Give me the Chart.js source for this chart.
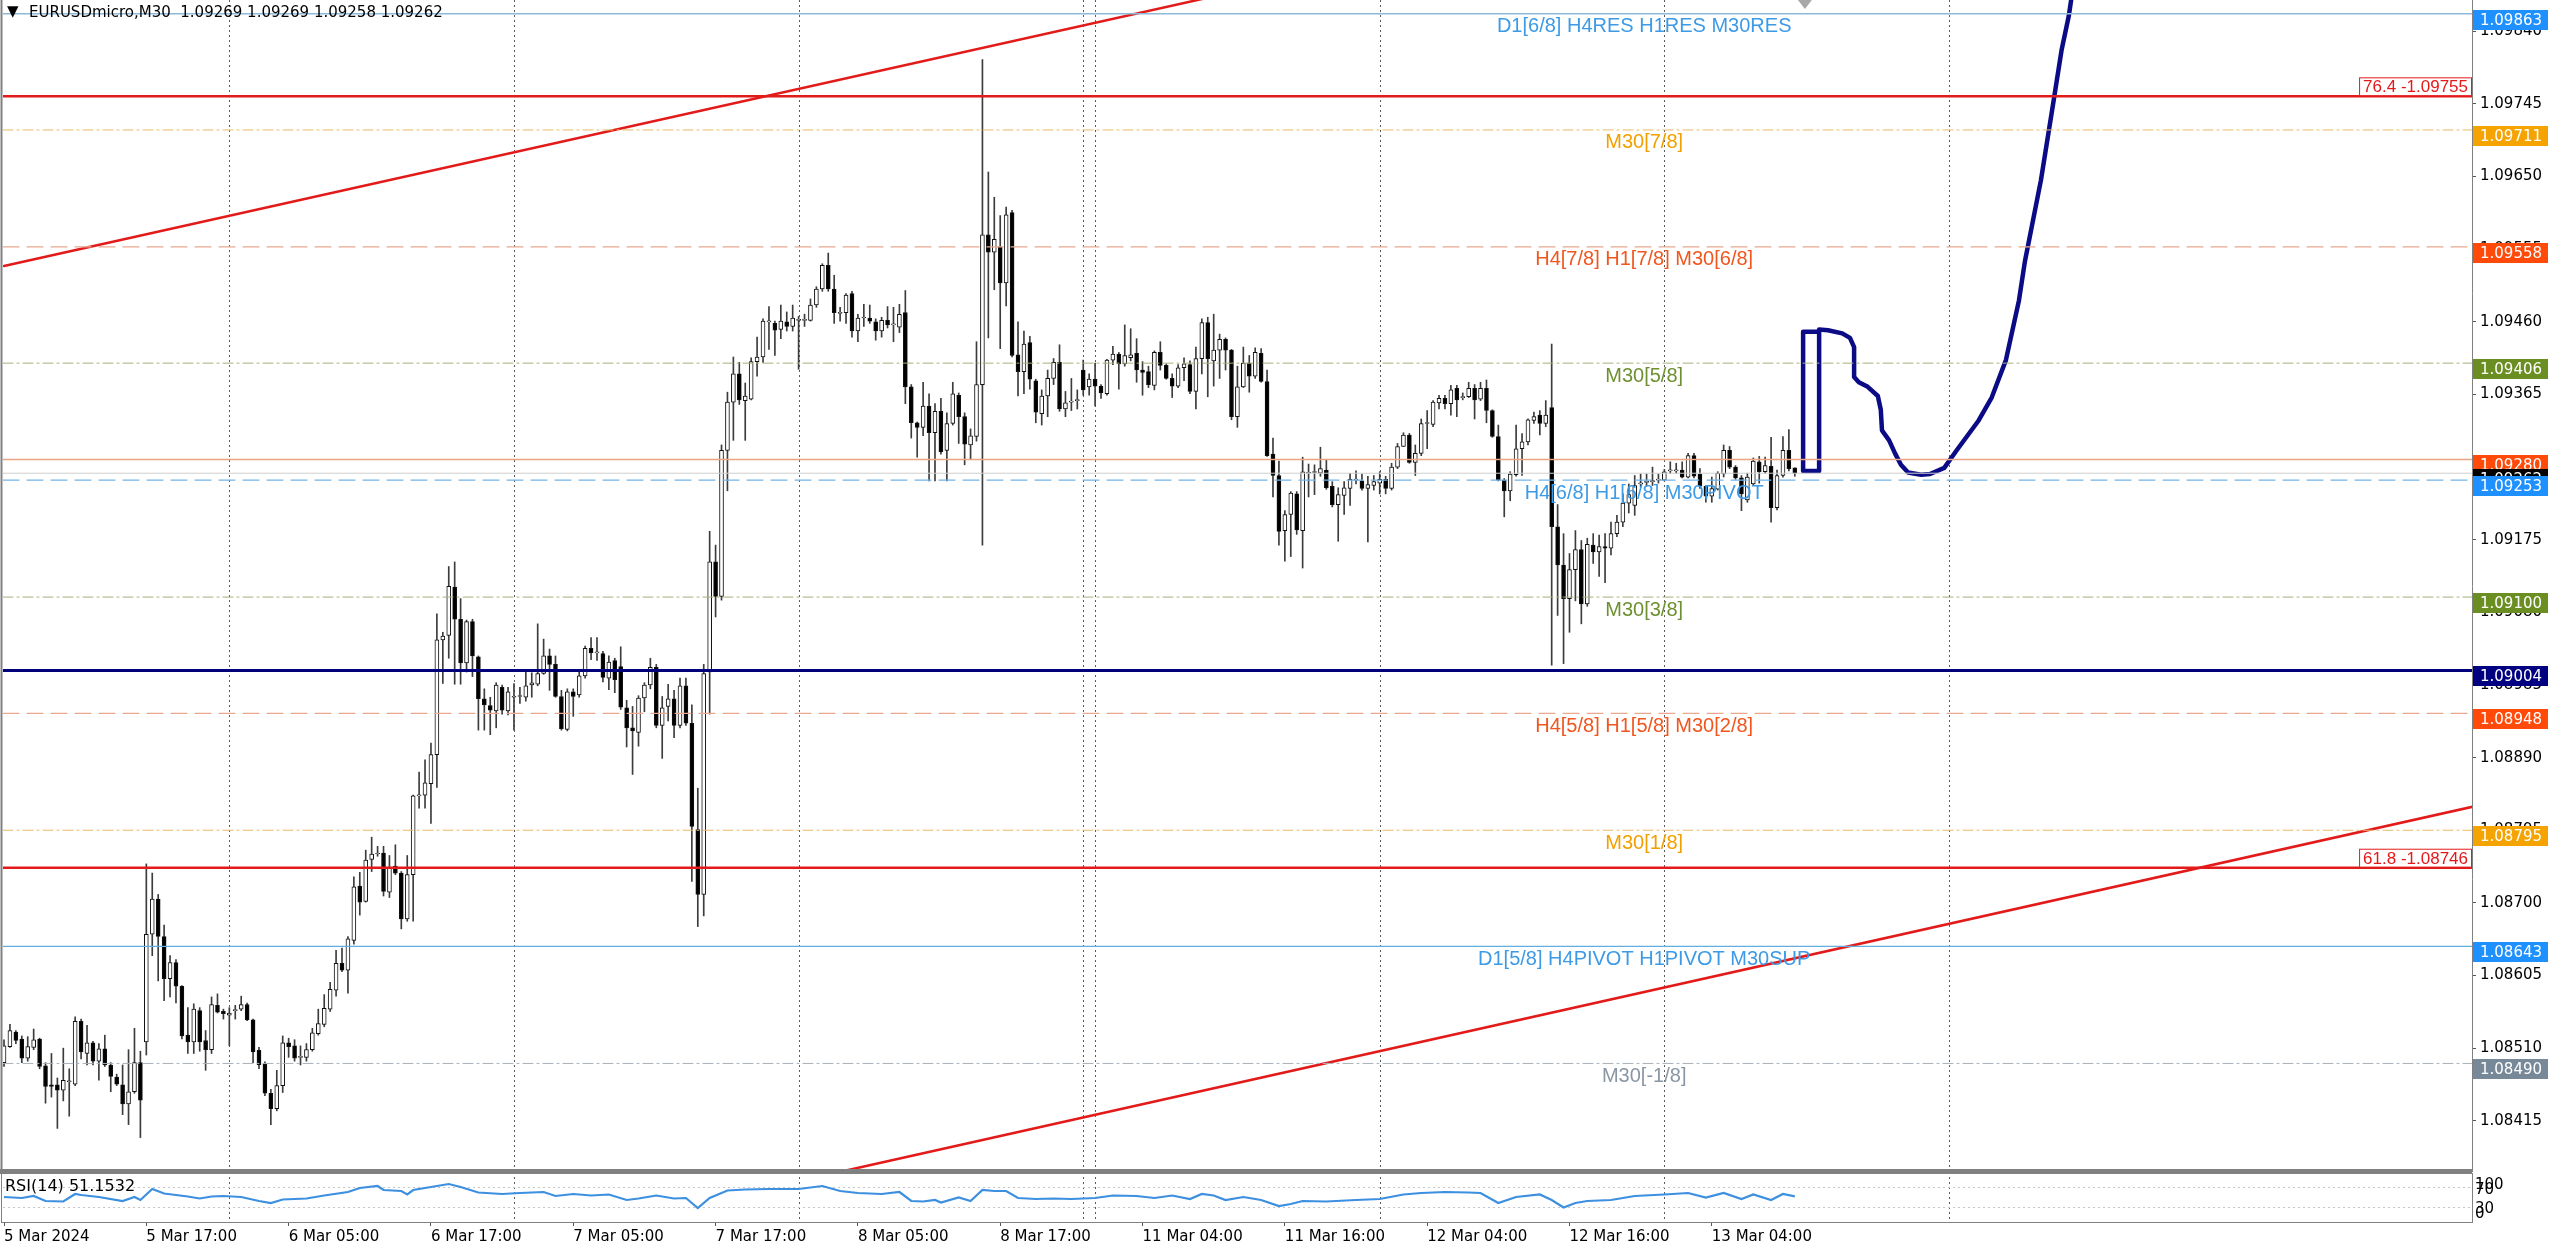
<!DOCTYPE html>
<html>
<head>
<meta charset="utf-8">
<script src="https://cdn.jsdelivr.net/npm/chart.js@4.4.1/dist/chart.umd.min.js"></script>
<style>
  html, body { margin: 0; padding: 0; background: #fff; }
  #wrap { position: relative; width: 2560px; height: 1248px; overflow: hidden; background: #fff; }
  #main { position: absolute; left: 0; top: 0; }
  #rsi { position: absolute; left: 0; top: 1172px; }
</style>
</head>
<body>
<div id="wrap">
  <canvas id="main" width="2560" height="1172"></canvas>
  <canvas id="rsi" width="2560" height="76"></canvas>
</div>
<script>
// EURUSDmicro M30, bar 0 = 5 Mar 05:00
const opens = [
  1.08491,1.08512,1.08531,1.08522,1.08497,1.08511,1.08522,1.08487,1.08462,1.08462,
  1.08455,1.08466,1.08463,1.08545,1.08503,1.08517,1.08493,1.08509,1.08488,1.08472,
  1.08462,1.08437,1.08453,1.08491,1.08518,1.08659,1.08705,1.08656,1.08601,1.08622,
  1.08591,1.08527,1.08518,1.08559,1.08520,1.08508,1.08566,1.08558,1.08553,1.08559,
  1.08561,1.08567,1.08547,1.08507,1.08489,1.08451,1.08431,1.08461,1.08517,1.08513,
  1.08498,1.08498,1.08508,1.08529,1.08541,1.08561,1.08586,1.08621,1.08612,1.08651,
  1.08722,1.08702,1.08757,1.08764,1.08765,1.08714,1.08748,1.08739,1.08679,1.08737,
  1.08840,1.08841,1.08856,1.08894,1.09044,1.09050,1.09113,1.09071,1.09014,1.09068,
  1.09022,1.08967,1.08958,1.08951,1.08982,1.08951,1.08969,1.08970,1.08969,1.08985,
  1.08986,1.09000,1.09023,1.09012,1.08970,1.08927,1.08976,1.08972,1.08997,1.09033,
  1.09027,1.09026,1.08994,1.09017,1.09009,1.08955,1.08929,1.08923,1.08968,1.08985,
  1.09008,1.08932,1.08957,1.08967,1.08932,1.08984,1.08935,1.08796,1.08711,1.09002,
  1.09146,1.09101,1.09292,1.09355,1.09392,1.09357,1.09359,1.09408,1.09414,1.09460,
  1.09458,1.09450,1.09460,1.09454,1.09462,1.09462,1.09462,1.09482,1.09503,1.09534,
  1.09503,1.09471,1.09472,1.09497,1.09448,1.09465,1.09465,1.09460,1.09448,1.09462,
  1.09456,1.09453,1.09472,1.09375,1.09328,1.09322,1.09350,1.09315,1.09343,1.09292,
  1.09327,1.09364,1.09336,1.09299,1.09310,1.09378,1.09574,1.09551,1.09558,1.09511,
  1.09603,1.09417,1.09395,1.09433,1.09383,1.09340,1.09363,1.09386,1.09407,1.09346,
  1.09355,1.09357,1.09397,1.09375,1.09385,1.09376,1.09366,1.09410,1.09418,1.09405,
  1.09413,1.09419,1.09397,1.09395,1.09377,1.09420,1.09403,1.09386,1.09376,1.09400,
  1.09404,1.09369,1.09412,1.09459,1.09409,1.09423,1.09437,1.09423,1.09336,1.09375,
  1.09406,1.09389,1.09419,1.09382,1.09287,1.09259,1.09187,1.09208,1.09235,1.09187,
  1.09262,1.09263,1.09262,1.09266,1.09245,1.09221,1.09233,1.09242,1.09253,1.09252,
  1.09242,1.09246,1.09249,1.09254,1.09242,1.09270,1.09297,1.09312,1.09276,1.09288,
  1.09327,1.09326,1.09354,1.09360,1.09353,1.09373,1.09361,1.09362,1.09373,1.09359,
  1.09373,1.09344,1.09310,1.09253,1.09239,1.09260,1.09294,1.09303,1.09331,1.09338,
  1.09327,1.09348,1.09192,1.09142,1.09098,1.09136,1.09162,1.09091,1.09168,1.09159,
  1.09166,1.09164,1.09183,1.09198,1.09223,1.09220,1.09248,1.09250,1.09251,1.09253,
  1.09253,1.09265,1.09265,1.09266,1.09257,1.09285,1.09261,1.09245,1.09232,1.09241,
  1.09261,1.09292,1.09270,1.09256,1.09227,1.09248,1.09277,1.09264,1.09271,1.09217,
  1.09259,1.09292,1.09269
];
const highs = [
  1.08521,1.08541,1.08533,1.08526,1.08525,1.08535,1.08523,1.08491,1.08503,1.08471,
  1.08510,1.08483,1.08551,1.08548,1.08540,1.08519,1.08516,1.08527,1.08491,1.08476,
  1.08488,1.08508,1.08536,1.08506,1.08751,1.08739,1.08711,1.08671,1.08631,1.08626,
  1.08592,1.08563,1.08568,1.08563,1.08533,1.08577,1.08581,1.08561,1.08563,1.08566,
  1.08578,1.08569,1.08548,1.08511,1.08492,1.08456,1.08481,1.08526,1.08523,1.08521,
  1.08513,1.08516,1.08536,1.08561,1.08580,1.08596,1.08638,1.08641,1.08656,1.08734,
  1.08740,1.08769,1.08786,1.08774,1.08774,1.08762,1.08776,1.08741,1.08762,1.08841,
  1.08871,1.08887,1.08909,1.09078,1.09054,1.09140,1.09146,1.09098,1.09070,1.09071,
  1.09023,1.08980,1.08969,1.08988,1.08985,1.08982,1.08987,1.08982,1.09005,1.09001,
  1.09065,1.09045,1.09032,1.09023,1.08978,1.08980,1.08980,1.09005,1.09036,1.09047,
  1.09047,1.09029,1.09023,1.09020,1.09035,1.08965,1.08957,1.08971,1.08988,1.09020,
  1.09012,1.08970,1.08986,1.08978,1.08994,1.08994,1.08959,1.08850,1.09012,1.09186,
  1.09168,1.09299,1.09368,1.09414,1.09407,1.09380,1.09413,1.09440,1.09464,1.09480,
  1.09461,1.09482,1.09473,1.09482,1.09467,1.09470,1.09490,1.09506,1.09536,1.09550,
  1.09521,1.09479,1.09497,1.09500,1.09470,1.09483,1.09482,1.09464,1.09466,1.09480,
  1.09479,1.09483,1.09501,1.09378,1.09329,1.09381,1.09366,1.09353,1.09360,1.09341,
  1.09381,1.09367,1.09341,1.09320,1.09434,1.09803,1.09656,1.09623,1.09599,1.09610,
  1.09606,1.09460,1.09448,1.09441,1.09385,1.09371,1.09397,1.09412,1.09430,1.09369,
  1.09386,1.09371,1.09410,1.09392,1.09406,1.09378,1.09411,1.09428,1.09420,1.09456,
  1.09451,1.09438,1.09408,1.09402,1.09422,1.09434,1.09405,1.09392,1.09404,1.09413,
  1.09409,1.09427,1.09464,1.09466,1.09470,1.09444,1.09439,1.09424,1.09402,1.09427,
  1.09416,1.09426,1.09425,1.09397,1.09308,1.09278,1.09213,1.09238,1.09238,1.09283,
  1.09274,1.09273,1.09296,1.09280,1.09251,1.09243,1.09251,1.09262,1.09265,1.09261,
  1.09258,1.09259,1.09264,1.09258,1.09275,1.09301,1.09315,1.09314,1.09299,1.09333,
  1.09344,1.09357,1.09364,1.09364,1.09377,1.09377,1.09367,1.09381,1.09378,1.09381,
  1.09384,1.09345,1.09325,1.09255,1.09264,1.09325,1.09314,1.09333,1.09342,1.09344,
  1.09357,1.09431,1.09221,1.09183,1.09157,1.09187,1.09174,1.09177,1.09183,1.09181,
  1.09183,1.09198,1.09207,1.09235,1.09248,1.09259,1.09261,1.09261,1.09270,1.09261,
  1.09267,1.09277,1.09275,1.09277,1.09288,1.09288,1.09268,1.09246,1.09257,1.09264,
  1.09299,1.09297,1.09272,1.09259,1.09262,1.09282,1.09284,1.09283,1.09309,1.09266,
  1.09310,1.09319,1.09269
];
const lows = [
  1.08486,1.08511,1.08516,1.08491,1.08493,1.08508,1.08483,1.08438,1.08446,1.08405,
  1.08441,1.08421,1.08461,1.08496,1.08488,1.08488,1.08468,1.08486,1.08453,1.08461,
  1.08423,1.08410,1.08451,1.08393,1.08501,1.08631,1.08598,1.08572,1.08577,1.08569,
  1.08522,1.08503,1.08503,1.08506,1.08481,1.08503,1.08556,1.08548,1.08513,1.08548,
  1.08559,1.08546,1.08491,1.08483,1.08448,1.08410,1.08428,1.08452,1.08498,1.08493,
  1.08488,1.08493,1.08506,1.08527,1.08538,1.08558,1.08578,1.08610,1.08582,1.08646,
  1.08684,1.08701,1.08741,1.08761,1.08709,1.08707,1.08737,1.08666,1.08676,1.08676,
  1.08824,1.08824,1.08804,1.08851,1.08987,1.09020,1.08986,1.08986,1.09002,1.08996,
  1.08926,1.08926,1.08920,1.08929,1.08947,1.08946,1.08926,1.08961,1.08964,1.08969,
  1.08984,1.08999,1.08978,1.08969,1.08926,1.08925,1.08944,1.08969,1.08994,1.09018,
  1.09017,1.08989,1.08979,1.08975,1.08953,1.08904,1.08868,1.08905,1.08950,1.08980,
  1.08929,1.08889,1.08938,1.08916,1.08929,1.08932,1.08728,1.08669,1.08683,1.08947,
  1.09074,1.09096,1.09239,1.09305,1.09352,1.09305,1.09358,1.09389,1.09407,1.09424,
  1.09416,1.09438,1.09448,1.09448,1.09398,1.09454,1.09461,1.09479,1.09500,1.09500,
  1.09458,1.09461,1.09458,1.09440,1.09434,1.09454,1.09458,1.09436,1.09440,1.09452,
  1.09434,1.09446,1.09353,1.09308,1.09283,1.09311,1.09252,1.09252,1.09287,1.09252,
  1.09325,1.09301,1.09273,1.09280,1.09304,1.09168,1.09439,1.09502,1.09425,1.09481,
  1.09414,1.09363,1.09366,1.09372,1.09328,1.09325,1.09336,1.09378,1.09343,1.09336,
  1.09344,1.09346,1.09364,1.09364,1.09350,1.09360,1.09364,1.09404,1.09372,1.09402,
  1.09409,1.09381,1.09364,1.09374,1.09371,1.09397,1.09385,1.09361,1.09374,1.09383,
  1.09366,1.09346,1.09392,1.09362,1.09376,1.09386,1.09397,1.09332,1.09322,1.09374,
  1.09368,1.09386,1.09381,1.09284,1.09231,1.09168,1.09147,1.09153,1.09182,1.09138,
  1.09231,1.09234,1.09258,1.09241,1.09218,1.09173,1.09208,1.09220,1.09248,1.09240,
  1.09172,1.09240,1.09235,1.09235,1.09240,1.09268,1.09297,1.09275,1.09259,1.09285,
  1.09294,1.09323,1.09346,1.09346,1.09338,1.09336,1.09358,1.09361,1.09333,1.09357,
  1.09328,1.09309,1.09252,1.09205,1.09226,1.09258,1.09259,1.09299,1.09327,1.09312,
  1.09323,1.09011,1.09076,1.09013,1.09054,1.09095,1.09065,1.09088,1.09144,1.09127,
  1.09119,1.09155,1.09179,1.09192,1.09210,1.09207,1.09244,1.09245,1.09246,1.09249,
  1.09252,1.09262,1.09262,1.09256,1.09256,1.09256,1.09242,1.09224,1.09224,1.09240,
  1.09257,1.09268,1.09254,1.09213,1.09224,1.09246,1.09249,1.09262,1.09198,1.09214,
  1.09257,1.09265,1.09258
];
const closes = [
  1.08513,1.08533,1.08520,1.08497,1.08512,1.08521,1.08486,1.08460,1.08460,1.08455,
  1.08468,1.08467,1.08545,1.08505,1.08517,1.08493,1.08509,1.08488,1.08473,1.08463,
  1.08437,1.08453,1.08491,1.08442,1.08659,1.08705,1.08656,1.08601,1.08622,1.08591,
  1.08526,1.08518,1.08561,1.08518,1.08508,1.08567,1.08557,1.08555,1.08556,1.08559,
  1.08567,1.08547,1.08505,1.08488,1.08451,1.08431,1.08461,1.08517,1.08512,1.08497,
  1.08498,1.08508,1.08530,1.08542,1.08562,1.08587,1.08621,1.08612,1.08653,1.08721,
  1.08701,1.08756,1.08764,1.08765,1.08715,1.08747,1.08739,1.08679,1.08737,1.08840,
  1.08841,1.08857,1.08894,1.09044,1.09049,1.09114,1.09071,1.09014,1.09068,1.09023,
  1.08967,1.08959,1.08952,1.08985,1.08952,1.08976,1.08969,1.08971,1.08984,1.08988,
  1.09000,1.09023,1.09012,1.08970,1.08928,1.08976,1.08970,1.08997,1.09033,1.09027,
  1.09027,1.08995,1.09015,1.08992,1.08956,1.08929,1.08925,1.08968,1.08985,1.09008,
  1.08932,1.08955,1.08967,1.08932,1.08984,1.08935,1.08800,1.08711,1.09000,1.09146,
  1.09101,1.09292,1.09355,1.09392,1.09358,1.09363,1.09408,1.09414,1.09461,1.09460,
  1.09449,1.09461,1.09454,1.09465,1.09462,1.09462,1.09482,1.09503,1.09534,1.09503,
  1.09472,1.09472,1.09495,1.09448,1.09465,1.09466,1.09461,1.09448,1.09462,1.09456,
  1.09456,1.09470,1.09375,1.09328,1.09322,1.09350,1.09315,1.09343,1.09290,1.09327,
  1.09366,1.09336,1.09300,1.09311,1.09378,1.09574,1.09551,1.09568,1.09511,1.09600,
  1.09416,1.09395,1.09431,1.09385,1.09342,1.09363,1.09386,1.09407,1.09346,1.09354,
  1.09355,1.09358,1.09371,1.09385,1.09376,1.09367,1.09410,1.09418,1.09405,1.09416,
  1.09417,1.09397,1.09394,1.09378,1.09420,1.09403,1.09386,1.09376,1.09400,1.09405,
  1.09369,1.09412,1.09459,1.09412,1.09423,1.09437,1.09423,1.09336,1.09375,1.09406,
  1.09389,1.09420,1.09382,1.09285,1.09259,1.09186,1.09208,1.09236,1.09188,1.09264,
  1.09263,1.09263,1.09268,1.09243,1.09221,1.09234,1.09243,1.09254,1.09253,1.09242,
  1.09247,1.09251,1.09254,1.09242,1.09270,1.09297,1.09312,1.09276,1.09288,1.09327,
  1.09327,1.09355,1.09360,1.09353,1.09371,1.09358,1.09361,1.09373,1.09358,1.09373,
  1.09344,1.09310,1.09253,1.09239,1.09261,1.09294,1.09303,1.09332,1.09336,1.09327,
  1.09338,1.09192,1.09142,1.09098,1.09136,1.09162,1.09091,1.09169,1.09159,1.09166,
  1.09164,1.09183,1.09198,1.09223,1.09234,1.09246,1.09249,1.09250,1.09251,1.09253,
  1.09264,1.09265,1.09265,1.09257,1.09285,1.09258,1.09245,1.09232,1.09242,1.09262,
  1.09292,1.09270,1.09256,1.09235,1.09257,1.09278,1.09264,1.09272,1.09217,1.09259,
  1.09292,1.09268,1.09262
];

// RSI(14) (bar index, value)
const rsiBars = [0,3,5,7,10,12,13,16,20,22,23,25,27,31,33,35,37,40,43,45,47,51,54,58,60,63,64,67,68,69,
  72,75,77,80,84,87,91,93,96,99,102,105,107,110,113,115,117,119,122,125,129,134,138,141,144,148,151,
  153,155,157,158,161,163,165,167,169,171,174,177,180,184,187,191,194,197,200,202,204,206,209,212,215,
  217,219,223,228,232,236,239,243,247,249,252,255,259,261,263,265,267,271,275,280,284,287,290,293,295,
  298,300,302];
const rsiValues = [50,48,52,42,41,56,54,50,42,50,44,66,57,51,47,51,52,50,42,38,45,47,53,60,68,72,64,62,55,64,
  70,76,70,59,56,58,60,52,56,53,55,44,47,53,47,48,28,48,63,65,66,66,72,62,58,56,60,
  42,41,44,39,49,42,64,62,62,48,46,47,46,48,53,52,48,53,46,56,53,44,50,44,32,
  36,42,41,44,46,55,58,60,59,58,38,50,55,44,29,38,42,44,52,55,58,49,58,46,55,
  44,56,51.15];

// time axis
const tickBars = [0,24,48,72,96,120,144,168,192,216,240,264,288];
const tickLabels = ['5 Mar 2024','5 Mar 17:00','6 Mar 05:00','6 Mar 17:00','7 Mar 05:00','7 Mar 17:00',
  '8 Mar 05:00','8 Mar 17:00','11 Mar 04:00','11 Mar 16:00','12 Mar 04:00','12 Mar 16:00','13 Mar 04:00'];
const dayLineBars = [38,86,134,182,184,232,280,328];

// price axis
const priceTicks = [1.08415,1.08510,1.08605,1.08700,1.08795,1.08890,1.08985,1.09080,
  1.09175,1.09270,1.09365,1.09460,1.09555,1.09650,1.09745,1.09840];

// horizontal levels (murrey / pivots)
const levelPrices = [1.09863,1.09711,1.09558,1.09406,1.09280,1.09262,1.09253,1.09100,1.09004,1.08948,1.08795,1.08643,1.08490];
const levelTexts = ['D1[6/8] H4RES H1RES M30RES','M30[7/8]','H4[7/8] H1[7/8] M30[6/8]','M30[5/8]','','',
  'H4[6/8] H1[6/8] M30PIVOT','M30[3/8]','','H4[5/8] H1[5/8] M30[2/8]','M30[1/8]','D1[5/8] H4PIVOT H1PIVOT M30SUP','M30[-1/8]'];
const fibPrices = [1.09755, 1.08746];
const fibTexts = ['76.4 -1.09755', '61.8 -1.08746'];

// trend channel
const upperTrendBars = [0, 203];
const upperTrendPrices = [1.09533, 1.09884];
const lowerTrendBars = [142, 417];
const lowerTrendPrices = [1.08350, 1.08827];

// hand drawn projection
const sketchBoxBars = [303.4, 306.1, 306.1, 303.4, 303.4];
const sketchBoxPrices = [1.09447, 1.09447, 1.09265, 1.09265, 1.09447];
const sketchBars = [306.1,307.6,310.0,311.3,312.0,312.0,312.8,314.3,316.0,316.5,316.7,317.9,318.9,319.9,321.1,
  323.3,324.8,327.2,329.3,333.0,335.2,337.6,339.8,340.8,343.5,345.7,347.0,348.2,348.6];
const sketchPrices = [1.09450,1.09449,1.09445,1.09439,1.09427,1.09388,1.09381,1.09375,1.09363,1.09345,1.09318,
  1.09305,1.09288,1.09273,1.09263,1.09260,1.09261,1.09269,1.09292,1.09331,1.09361,1.09410,1.09488,1.09539,
  1.09645,1.09752,1.09816,1.09860,1.09881];

// ---- styles ----
const X_MIN = -0.17, X_MAX = 416.2;
const Y_MIN = 1.08348, Y_MAX = 1.09881;
const AXIS_FONT = '15px "DejaVu Sans"';
const LABEL_FONT = '20px "Liberation Sans"';
const LABEL_BAR = 276.6;

const levelStyles = [
  { line: '#8db9da', width: 1.5, dash: [], text: '#3d9ae6', box: '#1e90ff' },
  { line: '#e9bb66', width: 1, dash: [10, 4, 2, 4], text: '#f2a000', box: '#f5a300' },
  { line: '#eaa98e', width: 1.2, dash: [16, 8], text: '#f0561e', box: '#ff4a0a' },
  { line: '#a3b27a', width: 1, dash: [10, 4, 2, 4], text: '#6f9030', box: '#6b8e23' },
  { line: '#e9a585', width: 1.5, dash: [], text: null, box: '#ff4a0a' },
  { line: '#cfcfcf', width: 1, dash: [], text: null, box: '#000000' },
  { line: '#6fb3ea', width: 1.2, dash: [16, 8], text: '#3d9ae6', box: '#1e90ff' },
  { line: '#a3b27a', width: 1, dash: [10, 4, 2, 4], text: '#6f9030', box: '#6b8e23' },
  { line: '#00007a', width: 3, dash: [], text: null, box: '#000080' },
  { line: '#eaa98e', width: 1.2, dash: [16, 8], text: '#f0561e', box: '#ff4a0a' },
  { line: '#e9bb66', width: 1, dash: [10, 4, 2, 4], text: '#f2a000', box: '#f5a300' },
  { line: '#62aee0', width: 1.2, dash: [], text: '#3d9ae6', box: '#1e90ff' },
  { line: '#a9b0b8', width: 1, dash: [10, 4, 2, 4], text: '#8a96a3', box: '#778899' }
];
const FIB_COLOR = '#e31a1a';
const TREND_COLOR = '#e31a1a';
const SKETCH_COLOR = '#0b0b86';

const pts = (xs, ys) => xs.map((x, i) => ({ x: x, y: ys[i] }));
const flat = (p) => [{ x: X_MIN, y: p }, { x: X_MAX, y: p }];

const lineSet = (data, color, width, dash) => ({
  type: 'line', data: data, borderColor: color, borderWidth: width, borderDash: dash || [],
  pointRadius: 0, fill: false, tension: 0, order: 0,
  borderJoinStyle: 'round', borderCapStyle: 'round'
});

const datasets = [];
levelPrices.forEach((p, i) => {
  const s = levelStyles[i];
  datasets.push(lineSet(flat(p), s.line, s.width, s.dash));
});
fibPrices.forEach(p => datasets.push(lineSet(flat(p), FIB_COLOR, 2.5)));
datasets.push(lineSet(pts(upperTrendBars, upperTrendPrices), TREND_COLOR, 2.5));
datasets.push(lineSet(pts(lowerTrendBars, lowerTrendPrices), TREND_COLOR, 2.5));
datasets.push(lineSet(pts(sketchBoxBars, sketchBoxPrices), SKETCH_COLOR, 4.5));
datasets.push(lineSet(pts(sketchBars, sketchPrices), SKETCH_COLOR, 4.5));

datasets.push({
  type: 'bar',
  data: opens.map((o, i) => ({ x: i, y: [o, closes[i]] })),
  backgroundColor: opens.map((o, i) => closes[i] >= o ? '#ffffff' : '#000000'),
  borderColor: '#111', borderWidth: 1, borderSkipped: false,
  barThickness: 4, minBarLength: 1, grouped: false, order: 1
});
datasets.push({
  type: 'bar',
  data: opens.map((o, i) => ({ x: i, y: [lows[i], highs[i]] })),
  backgroundColor: '#3c3c3c', borderWidth: 0,
  barThickness: 1, minBarLength: 1, grouped: false, order: 2
});

function drawDayLines(chart) {
  const { ctx, chartArea, scales } = chart;
  ctx.save();
  ctx.strokeStyle = '#5a5a5a';
  ctx.lineWidth = 1;
  ctx.setLineDash([2, 3]);
  dayLineBars.forEach(b => {
    const x = Math.round(scales.x.getPixelForValue(b)) + 0.5;
    ctx.beginPath();
    ctx.moveTo(x, chartArea.top);
    ctx.lineTo(x, chartArea.bottom);
    ctx.stroke();
  });
  ctx.restore();
}

const mainDecor = {
  id: 'mainDecor',
  beforeDraw(chart) {
    const ctx = chart.ctx;
    ctx.save();
    ctx.fillStyle = '#fff';
    ctx.fillRect(0, 0, chart.width, chart.height);
    ctx.restore();
  },
  beforeDatasetsDraw(chart) {
    drawDayLines(chart);
  },
  afterDatasetsDraw(chart) {
    const { ctx, chartArea, scales } = chart;
    ctx.save();
    // level captions
    ctx.font = LABEL_FONT;
    ctx.textAlign = 'center';
    ctx.textBaseline = 'top';
    const cx = scales.x.getPixelForValue(LABEL_BAR);
    levelPrices.forEach((p, i) => {
      if (!levelTexts[i]) return;
      ctx.fillStyle = levelStyles[i].text;
      ctx.fillText(levelTexts[i], cx, scales.y.getPixelForValue(p) + 3);
    });
    // fibo captions
    ctx.font = '17px "Liberation Sans"';
    ctx.textAlign = 'left';
    ctx.textBaseline = 'alphabetic';
    fibPrices.forEach((p, i) => {
      const y = scales.y.getPixelForValue(p);
      const w = ctx.measureText(fibTexts[i]).width + 8;
      const x0 = chartArea.right - w;
      ctx.fillStyle = '#fff';
      ctx.fillRect(x0, y - 18, w, 17);
      ctx.strokeStyle = FIB_COLOR;
      ctx.lineWidth = 1;
      ctx.strokeRect(x0 + 0.5, y - 18.5, w - 1, 18);
      ctx.fillStyle = FIB_COLOR;
      ctx.fillText(fibTexts[i], x0 + 4, y - 4);
    });
    ctx.restore();
  },
  afterDraw(chart) {
    const { ctx, chartArea, scales } = chart;
    ctx.save();
    // price tags on the axis
    ctx.font = AXIS_FONT;
    ctx.textAlign = 'left';
    ctx.textBaseline = 'middle';
    levelPrices.forEach((p, i) => {
      const y = Math.round(scales.y.getPixelForValue(p));
      ctx.fillStyle = levelStyles[i].box;
      ctx.fillRect(chartArea.right + 1, y - 4, 75, 20);
      ctx.fillStyle = '#fff';
      ctx.fillText(p.toFixed(5), chartArea.right + 8, y + 7);
    });
    // frame
    ctx.strokeStyle = '#808080';
    ctx.lineWidth = 2;
    ctx.beginPath();
    ctx.moveTo(1.5, 0);
    ctx.lineTo(1.5, chart.height);
    ctx.stroke();
    ctx.lineWidth = 3;
    ctx.beginPath();
    ctx.moveTo(0, chart.height - 1.5);
    ctx.lineTo(chartArea.right, chart.height - 1.5);
    ctx.stroke();
    // chart shift marker
    const sx = scales.x.getPixelForValue(303.7);
    ctx.fillStyle = '#a8a8a8';
    ctx.beginPath();
    ctx.moveTo(sx - 7, 0);
    ctx.lineTo(sx + 7, 0);
    ctx.lineTo(sx, 9);
    ctx.closePath();
    ctx.fill();
    // title
    ctx.fillStyle = '#000';
    ctx.font = '15px "DejaVu Sans"';
    ctx.textBaseline = 'middle';
    ctx.fillText('\u25BC', 7, 12);
    ctx.fillText('EURUSDmicro,M30  1.09269 1.09269 1.09258 1.09262', 29, 13);
    ctx.restore();
  }
};

new Chart(document.getElementById('main'), {
  type: 'bar',
  data: { datasets: datasets },
  options: {
    responsive: false,
    animation: false,
    devicePixelRatio: 1,
    events: [],
    layout: { padding: { left: 3, right: 0, top: 0, bottom: 0 } },
    plugins: { legend: { display: false }, tooltip: { enabled: false } },
    scales: {
      x: { type: 'linear', min: X_MIN, max: X_MAX, offset: false, display: false },
      y: {
        type: 'linear', position: 'right', min: Y_MIN, max: Y_MAX,
        afterBuildTicks: s => { s.ticks = priceTicks.map(v => ({ value: v })); },
        afterFit: s => { s.width = 88; s.paddingTop = 0; s.paddingBottom = 0; },
        ticks: {
          callback: v => v.toFixed(5), color: '#000', autoSkip: false, padding: 4,
          font: { family: 'DejaVu Sans', size: 15 }
        },
        grid: { drawOnChartArea: false, tickLength: 4, color: '#555' },
        border: { color: '#808080', width: 1 }
      }
    }
  },
  plugins: [mainDecor]
});

// ---- RSI pane ----
const rsiDecor = {
  id: 'rsiDecor',
  beforeDraw(chart) {
    const ctx = chart.ctx;
    ctx.save();
    ctx.fillStyle = '#fff';
    ctx.fillRect(0, 0, chart.width, chart.height);
    ctx.restore();
  },
  beforeDatasetsDraw(chart) {
    const { ctx, chartArea, scales } = chart;
    drawDayLines(chart);
    ctx.save();
    ctx.strokeStyle = '#c4c4c4';
    ctx.lineWidth = 1;
    ctx.setLineDash([2, 3]);
    [70, 30].forEach(v => {
      const y = Math.round(scales.y.getPixelForValue(v)) + 0.5;
      ctx.beginPath();
      ctx.moveTo(chartArea.left, y);
      ctx.lineTo(chartArea.right, y);
      ctx.stroke();
    });
    ctx.restore();
  },
  afterDraw(chart) {
    const { ctx, chartArea } = chart;
    ctx.save();
    ctx.strokeStyle = '#808080';
    ctx.lineWidth = 1;
    ctx.strokeRect(1.5, 1.5, chartArea.right - 1, chartArea.bottom - 1);
    ctx.lineWidth = 2;
    ctx.beginPath();
    ctx.moveTo(0, 1);
    ctx.lineTo(chartArea.right, 1);
    ctx.stroke();
    ctx.fillStyle = '#000';
    ctx.font = '16px "DejaVu Sans"';
    ctx.textBaseline = 'middle';
    ctx.textAlign = 'left';
    ctx.fillText('RSI(14) 51.1532', 5, 15);
    ctx.font = AXIS_FONT;
    const ax = chartArea.right + 3;
    ctx.fillText('100', ax, 13);
    ctx.fillText('70', ax, 18);
    ctx.fillText('30', ax, 37);
    ctx.fillText('0', ax, 42);
    ctx.restore();
  }
};

new Chart(document.getElementById('rsi'), {
  type: 'line',
  data: {
    datasets: [{
      data: pts(rsiBars, rsiValues),
      borderColor: '#3d8fe0', borderWidth: 2.2, pointRadius: 0, tension: 0, fill: false
    }]
  },
  options: {
    responsive: false,
    animation: false,
    devicePixelRatio: 1,
    events: [],
    layout: { padding: { left: 3, right: 88, top: 0, bottom: 0 } },
    plugins: { legend: { display: false }, tooltip: { enabled: false } },
    scales: {
      x: {
        type: 'linear', min: X_MIN, max: X_MAX, offset: false,
        afterBuildTicks: s => { s.ticks = tickBars.map(v => ({ value: v })); },
        afterFit: s => { s.height = 26; },
        ticks: {
          callback: (v, i) => tickLabels[i], align: 'start', maxRotation: 0, autoSkip: false,
          color: '#000', padding: 2, font: { family: 'DejaVu Sans', size: 15 }
        },
        grid: { drawOnChartArea: false, tickLength: 4, color: '#555' },
        border: { color: '#808080' }
      },
      y: { min: 0, max: 100, display: false }
    }
  },
  plugins: [rsiDecor]
});
</script>
</body>
</html>
